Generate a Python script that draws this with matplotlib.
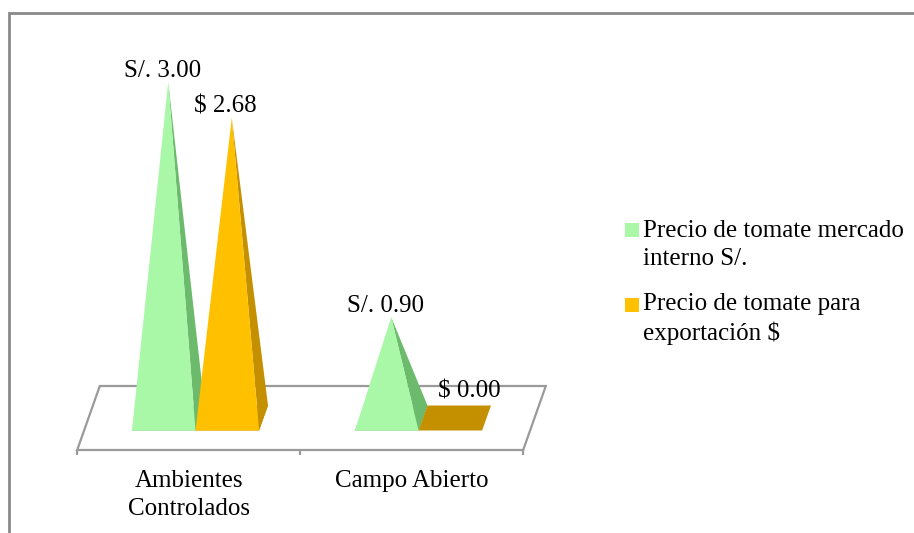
import matplotlib
matplotlib.use("Agg")
import matplotlib.pyplot as plt
from matplotlib.patches import Polygon, Rectangle

# ---- data ----
categories = ["Ambientes\nControlados", "Campo Abierto"]
mercado_interno = [3.00, 0.90]      # S/.
exportacion = [2.68, 0.00]          # $
series_names = ["Precio de tomate mercado\ninterno S/.",
                "Precio de tomate para\nexportación $"]
value_prefix = ["S/. ", "$ "]

# ---- style ----
face_colors = ["#A8F8A8", "#FFC000"]
side_colors = ["#6CBA6C", "#C49000"]
floor_color = "#9A9A9A"
font = "Liberation Serif"
fsize = 18
line_px = 28          # distance between text lines, pixels
lsp = 1.35

W, H = 914, 533
fig = plt.figure(figsize=(W / 100, H / 100), dpi=100)
ax = fig.add_axes([0, 0, 1, 1])
# one category = 223 px, one price unit = 112 px
ax.set_xlim(-200 / 223, (W - 200) / 223)
ax.set_ylim(-(H - 418) / 112, 418 / 112)
ax.axis("off")

# oblique depth offsets (half depth) in data units
bar_dx, bar_dy = 0.020, 0.1116
floor_dx, floor_dy = 0.0507, 0.2857
half_w = 0.1425
offsets = [-half_w, half_w]

n = len(categories)
# floor
fl = [(-0.5 - floor_dx, -floor_dy), (n - 0.5 - floor_dx, -floor_dy),
      (n - 0.5 + floor_dx, floor_dy), (-0.5 + floor_dx, floor_dy)]
ax.add_patch(Polygon(fl, closed=True, fill=False, edgecolor=floor_color,
                     lw=1.6, zorder=1, joinstyle="miter"))
for k in range(n + 1):
    xt = k - 0.5 - floor_dx
    ax.plot([xt, xt], [-floor_dy, -floor_dy - 5 / 112], color=floor_color,
            lw=1.6, zorder=1, solid_capstyle="butt")

# category labels (baseline of the last line)
for i, cat in enumerate(categories):
    extra = cat.count("\n") * line_px
    ax.annotate(cat, xy=(i - floor_dx, -floor_dy), xytext=(0, -37 - extra),
                textcoords="offset pixels", ha="center", va="baseline",
                family=font, fontsize=fsize, linespacing=lsp, zorder=5)

# pyramids
series = [mercado_interno, exportacion]
for i in range(n):
    for s, vals in enumerate(series):
        v = vals[i]
        c = i + offsets[s]
        FL = (c - half_w - bar_dx, -bar_dy)
        FR = (c + half_w - bar_dx, -bar_dy)
        BR = (c + half_w + bar_dx, bar_dy)
        BL = (c - half_w + bar_dx, bar_dy)
        apex = (c, v)
        z = 2 + 0.1 * (2 * i + s)
        ax.add_patch(Polygon([FL, FR, BR, BL], closed=True,
                             facecolor=side_colors[s], edgecolor="none", zorder=z))
        if v > 0:
            ax.add_patch(Polygon([FR, BR, apex], closed=True,
                                 facecolor=side_colors[s], edgecolor="none", zorder=z))
            ax.add_patch(Polygon([FL, FR, apex], closed=True,
                                 facecolor=face_colors[s], edgecolor="none", zorder=z))
            anchor, off = apex, (-6, 5)
        else:
            anchor, off = (c + bar_dx, bar_dy), (10, 8)
        ax.annotate(f"{value_prefix[s]}{v:.2f}", xy=anchor, xytext=off,
                    textcoords="offset pixels", ha="center", va="baseline",
                    family=font, fontsize=fsize, zorder=6)

# legend: square sits on the first line's baseline
leg_base = [237, 312]
for s, name in enumerate(series_names):
    b = leg_base[s]
    fig.add_artist(Rectangle((625 / W, 1 - b / H), 14 / W, 14 / H,
                             transform=fig.transFigure, facecolor=face_colors[s],
                             edgecolor="none"))
    last = b + name.count("\n") * line_px
    fig.text(643 / W, 1 - last / H, name, ha="left", va="baseline",
             family=font, fontsize=fsize, linespacing=lsp)

# outer frame
fig.add_artist(Rectangle((9 / W, -0.1), 1.2, (H - 13) / H + 0.1,
                         transform=fig.transFigure, fill=False,
                         edgecolor="#8A8A8A", lw=2.0))

fig.savefig("out.png", dpi=100)
